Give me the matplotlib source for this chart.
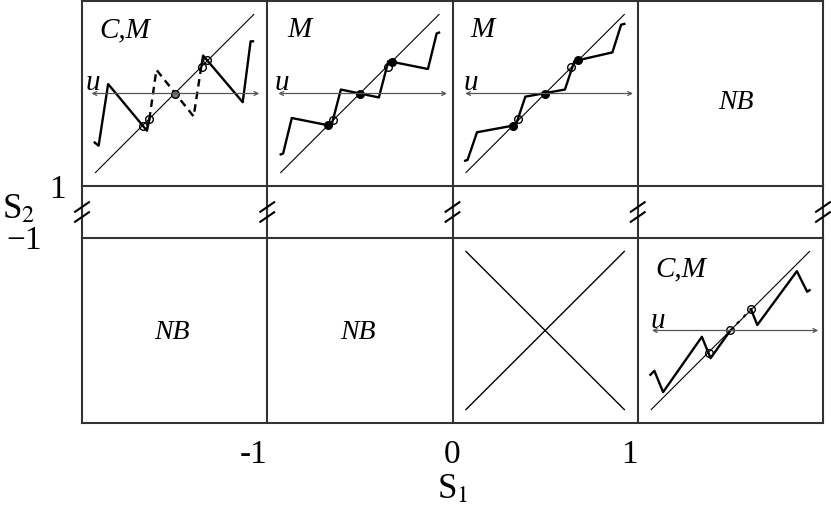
import numpy as np
import matplotlib
matplotlib.use("Agg")
import matplotlib.pyplot as plt

plt.rcParams["font.family"] = ["Liberation Serif", "DejaVu Serif"]
plt.rcParams["mathtext.fontset"] = "stix"

# axis ticks
s1_ticks = [-1, 0, 1]
s1_labels = ["-1", "0", "1"]
s2_top_label = "1"
s2_bot_label = "\u22121"

# panel labels (row, col)
panel_tags = {(0, 0): "C,M", (0, 1): "M", (0, 2): "M", (1, 3): "C,M"}
nb_cells = [(0, 3), (1, 0), (1, 1)]

# panel (0,0): C,M
p1_sa_x = [-1.01, -0.96, -0.84, -0.35, -0.32]
p1_sa_y = [-0.62, -0.66, 0.12, -0.47, -0.33]
p1_d_x = [-0.32, -0.23, 0.24, 0.34]
p1_d_y = [-0.33, 0.30, -0.29, 0.36]
p1_sb_x = [0.34, 0.36, 0.86, 0.96, 0.99]
p1_sb_y = [0.36, 0.48, -0.11, 0.66, 0.66]
p1_open_x = [-0.40, -0.32, 0.34, 0.41]
p1_open_y = [-0.41, -0.32, 0.34, 0.42]

# panel (0,1): M
p2_x = [-1.00, -0.97, -0.86, -0.36, -0.24, 0.24, 0.36, 0.86, 0.97, 1.00]
p2_y = [-0.77, -0.76, -0.31, -0.41, 0.05, -0.05, 0.41, 0.31, 0.76, 0.77]
p2_fill_x = [-0.40, 0.0, 0.40]
p2_fill_y = [-0.40, 0.0, 0.40]
p2_open_x = [-0.34, 0.35]
p2_open_y = [-0.33, 0.34]

# panel (0,2): M
p3_x = [-1.01, -0.98, -0.86, -0.37, -0.25, 0.25, 0.37, 0.85, 0.96, 1.00]
p3_y = [-0.85, -0.84, -0.49, -0.40, -0.04, 0.05, 0.41, 0.52, 0.87, 0.88]
p3_fill_x = [-0.41, 0.0, 0.41]
p3_fill_y = [-0.41, 0.0, 0.42]
p3_open_x = [-0.34, 0.33]
p3_open_y = [-0.32, 0.33]

# panel (1,3): C,M
p8_sa_x = [-1.01, -0.96, -0.85, -0.36, -0.25, 0.0]
p8_sa_y = [-0.56, -0.51, -0.78, -0.08, -0.35, 0.0]
p8_d_x = [0.0, 0.26]
p8_d_y = [0.0, 0.27]
p8_sb_x = [0.26, 0.34, 0.84, 0.97, 1.00]
p8_sb_y = [0.27, 0.07, 0.75, 0.49, 0.51]
p8_open_x = [-0.27, 0.0, 0.26]
p8_open_y = [-0.29, 0.0, 0.27]

LIM = 1.17
GAP = 52 / 185
frame_col = "#333333"

fig = plt.figure(figsize=(8.31, 5.16), dpi=100)
ax_top = fig.add_axes([82 / 831, 1 - 186 / 516, 741 / 831, 185 / 516])
ax_bot = fig.add_axes([82 / 831, 1 - 423 / 516, 741 / 831, 185 / 516])

for ax, ylim in [(ax_top, (1, 2)), (ax_bot, (-2, -1))]:
    ax.set_xlim(-2, 2)
    ax.set_ylim(*ylim)
    for sp in ax.spines.values():
        sp.set_color(frame_col)
        sp.set_linewidth(1.5)
    for x in s1_ticks:
        ax.axvline(x, color=frame_col, lw=1.5)
    ax.tick_params(length=0, labelsize=24)

ax_top.set_xticks([])
ax_top.set_yticks([1], [s2_top_label])
ax_top.tick_params(axis="y", pad=12)
ax_bot.set_yticks([])
# the -1 label sits a little below the axis line, just under S2
ax_bot.text(-2, -1, s2_bot_label, fontsize=24, ha="right", va="center",
            transform=ax_bot.transData + matplotlib.transforms.ScaledTranslation(
                -40 / 100, -3 / 100, fig.dpi_scale_trans))
ax_bot.set_xticks(s1_ticks, s1_labels)
ax_bot.tick_params(axis="x", pad=12)
for lab, t in zip(ax_bot.get_xticklabels(), s1_ticks):
    if t != 0:
        lab.set_ha("right")
        lab.set_x(t)
ax_bot.set_xlabel("S$_1$", fontsize=25, labelpad=2)
fig.text(2 / 831, 1 - 210 / 516, "S$_2$", fontsize=25, va="center", ha="left")

# vertical lines through the break strip and break marks
for x in [-2] + s1_ticks + [2]:
    ax_top.plot([x, x], [1, 1 - GAP], color=frame_col, lw=1.5, clip_on=False)
    for yc in [1 - 21 / 185, 1 - 31 / 185]:
        ax_top.plot([x - 0.042, x + 0.042], [yc - 0.029, yc + 0.029],
                    color="black", lw=1.5, clip_on=False, solid_capstyle="butt")


def cell(row, col):
    base = ax_top if row == 0 else ax_bot
    y0 = 1 if row == 0 else -2
    ins = base.inset_axes([-2 + col, y0, 1, 1], transform=base.transData)
    ins.set_xlim(-LIM, LIM)
    ins.set_ylim(-LIM, LIM)
    ins.axis("off")
    return ins


def scheme(ins, ux0, ux1, ulab_x, ulab_y):
    ins.plot([-1, 1], [-1, 1], color="black", lw=0.8)
    ins.annotate("", xy=(ux1, 0), xytext=(ux0, 0),
                 arrowprops=dict(arrowstyle="<->", color="#555555", lw=0.9,
                                 mutation_scale=7, shrinkA=0, shrinkB=0))
    ins.text(ulab_x, ulab_y, "u", fontsize=21, style="italic", ha="left",
             va="baseline")


curve = dict(color="black", lw=1.7)
opn = dict(ls="none", marker="o", ms=5.5, mfc="none", mec="black", mew=1.0)
fil = dict(ls="none", marker="o", ms=5.5, mfc="black", mec="black")

a = cell(0, 0)
scheme(a, -1.05, 1.07, -1.13, 0.05)
a.plot(p1_sa_x, p1_sa_y, **curve)
a.plot(p1_sb_x, p1_sb_y, **curve)
a.plot(p1_d_x, p1_d_y, ls=(0, (3.2, 2.2)), color="black", lw=1.7)
a.plot(p1_open_x, p1_open_y, **opn)
a.plot([0], [0], ls="none", marker="o", ms=5.5, mfc="#777777", mec="black",
       mew=1.0)

a = cell(0, 1)
scheme(a, -1.03, 1.10, -1.08, 0.05)
a.plot(p2_x, p2_y, **curve)
a.plot(p2_fill_x, p2_fill_y, **fil)
a.plot(p2_open_x, p2_open_y, **opn)

a = cell(0, 2)
scheme(a, -1.01, 1.11, -1.03, 0.05)
a.plot(p3_x, p3_y, **curve)
a.plot(p3_fill_x, p3_fill_y, **fil)
a.plot(p3_open_x, p3_open_y, **opn)

a = cell(1, 3)
scheme(a, -0.99, 1.11, -1.01, 0.03)
a.plot(p8_sa_x, p8_sa_y, **curve)
a.plot(p8_sb_x, p8_sb_y, **curve)
a.plot(p8_d_x, p8_d_y, ls=(0, (1.5, 3)), color="black", lw=1.5)
a.plot(p8_open_x, p8_open_y, **opn)

a = cell(1, 2)
a.plot([-1, 1], [-1, 1], color="black", lw=1.0)
a.plot([-1, 1], [1, -1], color="black", lw=1.0)

tag_pos = {(0, 0): (-0.95, 0.71), (0, 1): (-0.92, 0.72), (0, 2): (-0.94, 0.72),
           (1, 3): (-0.95, 0.68)}
for key, txt in panel_tags.items():
    a = cell(*key)
    x, y = tag_pos[key]
    a.text(x, y, txt, fontsize=21, style="italic", ha="left", va="baseline")

nb_pos = {(0, 3): (0.07, -0.11), (1, 0): (-0.03, -0.03), (1, 1): (-0.03, -0.03)}
for key in nb_cells:
    a = cell(*key)
    x, y = nb_pos[key]
    a.text(x, y, "NB", fontsize=20, style="italic", ha="center", va="center")

fig.savefig("out.png", dpi=100)
